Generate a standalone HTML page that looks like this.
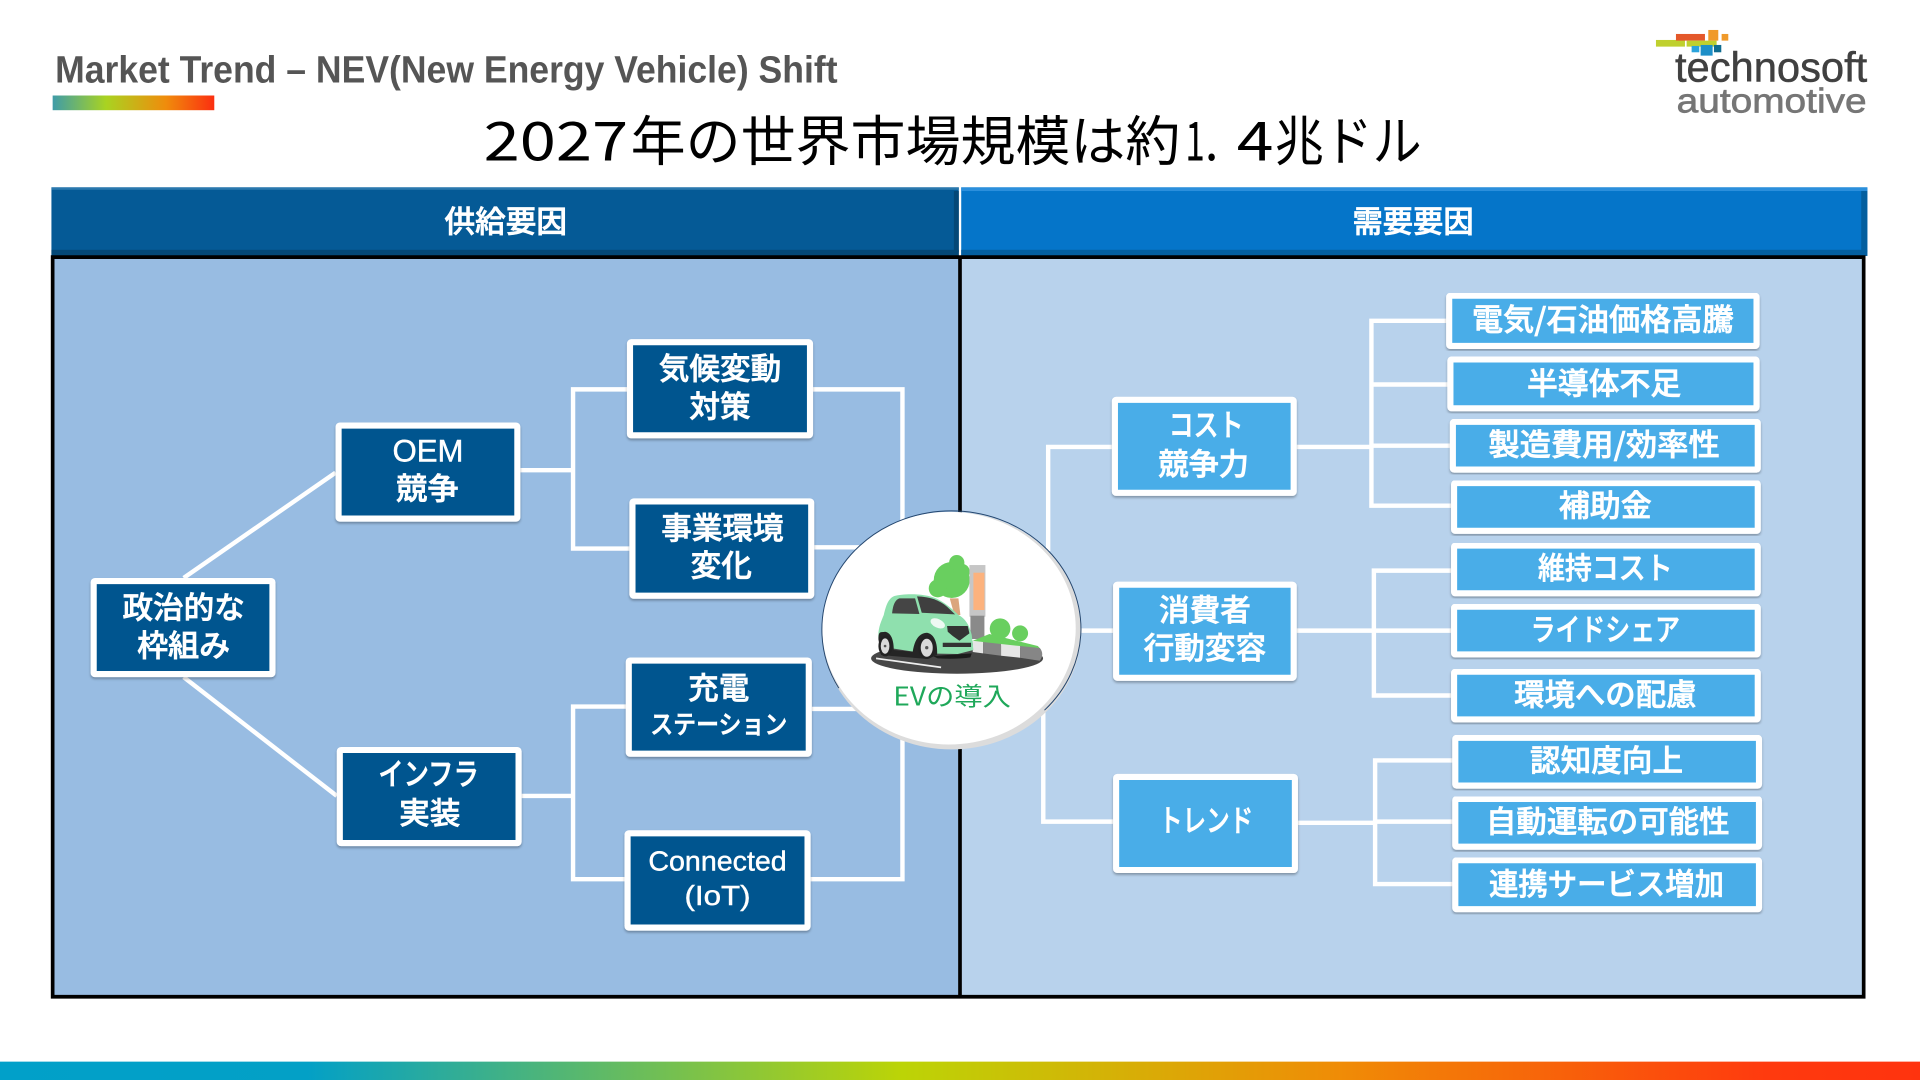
<!DOCTYPE html>
<html><head><meta charset="utf-8">
<style>
html,body{margin:0;padding:0;background:#fff;width:1920px;height:1080px;overflow:hidden}
svg{display:block}
text{font-family:"Liberation Sans","Noto Sans CJK JP",sans-serif}
.w{fill:#fff;stroke:#fff;stroke-width:.55;font-size:25px;font-weight:500;text-anchor:middle;font-family:"Noto Sans CJK JP","Liberation Sans",sans-serif}
.e{fill:#fff;stroke:#fff;stroke-width:.35;text-anchor:middle;font-family:"Liberation Sans",sans-serif}
.d{fill:#04558f;stroke:#fff;stroke-width:5;filter:url(#sh)}
.l{fill:#49ade8;stroke:#fff;stroke-width:5;filter:url(#sh)}
.c{fill:none;stroke:#fff;stroke-width:3.6;stroke-linejoin:miter}
.t{font-size:44px;fill:#000;font-family:"Noto Sans CJK JP",sans-serif;font-weight:400}
</style></head><body>
<svg width="1920" height="1080" viewBox="0 0 1568 882" xmlns="http://www.w3.org/2000/svg">
<defs>
<linearGradient id="g1"><stop offset="0" stop-color="#3f9ca8"/><stop offset=".33" stop-color="#a9d321"/><stop offset=".7" stop-color="#f08c0c"/><stop offset="1" stop-color="#fb2f10"/></linearGradient>
<linearGradient id="g2"><stop offset="0" stop-color="#01a0c9"/><stop offset=".16" stop-color="#03a0c6"/><stop offset=".47" stop-color="#bcd406"/><stop offset=".7" stop-color="#f08b06"/><stop offset=".92" stop-color="#ff3a0e"/><stop offset="1" stop-color="#ff330e"/></linearGradient>
<filter id="sh" x="-5%" y="-5%" width="110%" height="115%"><feDropShadow dx="0" dy="1.5" stdDeviation="1" flood-color="#000" flood-opacity=".3"/></filter>
</defs>

<rect x="0" y="0" width="1568" height="882" fill="#fff"/>
<text x="45" y="67.500" font-size="31" font-weight="700" fill="#555" textLength="639" lengthAdjust="spacingAndGlyphs">Market Trend – NEV(New Energy Vehicle) Shift</text>
<rect x="43" y="78" width="132" height="12" fill="url(#g1)"/>

<text class="t" x="395" y="131" textLength="118" lengthAdjust="spacingAndGlyphs">2027</text>
<text class="t" x="515" y="131" textLength="449" lengthAdjust="spacingAndGlyphs">年の世界市場規模は約</text>
<text class="t" x="968" y="131" textLength="16" lengthAdjust="spacingAndGlyphs">1</text>
<text class="t" x="984" y="131" textLength="11" lengthAdjust="spacingAndGlyphs">.</text>
<text class="t" x="1010" y="131" textLength="30" lengthAdjust="spacingAndGlyphs">4</text>
<text class="t" x="1041" y="131" textLength="120" lengthAdjust="spacingAndGlyphs">兆ドル</text>

<!-- logo -->
<g transform="translate(1339.300 16.300) scale(.2722)">
  <rect x="48" y="60" width="87" height="20" fill="#bfd02e"/>
  <rect x="108" y="42" width="87" height="20" fill="#e4582a"/>
  <rect x="140" y="62" width="90" height="18" fill="#bfd02e"/>
  <rect x="205" y="30" width="30" height="32" fill="#f09a2a"/>
  <rect x="245" y="42" width="20" height="20" fill="#f09a2a"/>
  <rect x="155" y="78" width="23" height="19" fill="#2aa3dc"/>
  <rect x="182" y="75" width="36" height="32" fill="#1d8fc8"/>
  <rect x="222" y="75" width="22" height="22" fill="#0f6c90"/>
  <text x="105" y="184" font-size="124" fill="#404040" stroke="#404040" stroke-width="1.5" textLength="577" lengthAdjust="spacingAndGlyphs">technosoft</text>
  <text x="110" y="277" font-size="104" fill="#767676" stroke="#767676" stroke-width="2" textLength="570" lengthAdjust="spacingAndGlyphs">automotive</text>
</g>

<!-- headers -->
<rect x="42" y="153" width="741" height="56" fill="#055a96"/>
<rect x="42" y="153" width="741" height="2" fill="#2a78ae"/>
<rect x="785" y="153" width="740" height="56" fill="#0575c9"/>
<rect x="785" y="153" width="740" height="3" fill="#2b8fdc"/>
<rect x="785" y="204" width="740" height="5" fill="#045f9f"/>
<rect x="42" y="204" width="741" height="5" fill="#044877"/>
<rect x="1520" y="156" width="5" height="50" fill="#045f9f"/>
<rect x="779" y="156" width="4" height="50" fill="#044877"/>
<text class="w" x="413" y="190" textLength="100" lengthAdjust="spacingAndGlyphs">供給要因</text>
<text class="w" x="1154" y="190" textLength="99" lengthAdjust="spacingAndGlyphs">需要要因</text>

<!-- panels -->
<rect x="43" y="210" width="741" height="604" fill="#98bce2"/>
<rect x="785" y="210" width="737" height="604" fill="#b8d2ec"/>
<path d="M43 210H1522V814H43Z M784 210V814" fill="none" stroke="#000" stroke-width="3"/>

<!-- connectors -->
<path class="c" d="M150 472L274 386M150 553L275 650"/>
<path class="c" d="M425 384H468M514 318H468V448H514M426 650H468M512 577H468V718H512"/>
<path class="c" d="M664 318H737V440M665 447H720M663 579H720M662 718H737V590"/>
<path class="c" d="M908 365H856V450M870 515H909M909 671H852V580"/>
<path class="c" d="M1059 365H1120M1182 262H1120V413H1186M1120 314H1184M1120 364H1186"/>
<path class="c" d="M1059 515H1122M1186 466H1122V568H1186M1122 515H1186"/>
<path class="c" d="M1060 672H1123M1187 621H1123V722H1187M1123 671H1187"/>

<!-- dark boxes -->
<rect class="d" rx="1" x="76.500" y="474.500" width="146" height="76"/>
<text class="w" x="150" y="505" textLength="100" lengthAdjust="spacingAndGlyphs">政治的な</text>
<text class="w" x="150" y="536" textLength="76" lengthAdjust="spacingAndGlyphs">枠組み</text>

<rect class="d" rx="1" x="276.500" y="347.500" width="146" height="76"/>
<text class="e" x="349.500" y="377" font-size="26" textLength="58" lengthAdjust="spacingAndGlyphs">OEM</text>
<text class="w" x="349" y="408" textLength="51" lengthAdjust="spacingAndGlyphs">競争</text>

<rect class="d" rx="1" x="277.500" y="612.500" width="146" height="76"/>
<text class="w" x="350" y="641" textLength="82" lengthAdjust="spacingAndGlyphs">インフラ</text>
<text class="w" x="351" y="673" textLength="50" lengthAdjust="spacingAndGlyphs">実装</text>

<rect class="d" rx="1" x="514.500" y="279.500" width="147" height="76"/>
<text class="w" x="588" y="310" textLength="100" lengthAdjust="spacingAndGlyphs">気候変動</text>
<text class="w" x="588" y="341" textLength="50" lengthAdjust="spacingAndGlyphs">対策</text>

<rect class="d" rx="1" x="516.500" y="409.500" width="146" height="77"/>
<text class="w" x="590" y="440" textLength="100" lengthAdjust="spacingAndGlyphs">事業環境</text>
<text class="w" x="589" y="471" textLength="50" lengthAdjust="spacingAndGlyphs">変化</text>

<rect class="d" rx="1" x="513.500" y="539.500" width="147" height="76"/>
<text class="w" x="587" y="571" textLength="50" lengthAdjust="spacingAndGlyphs">充電</text>
<text class="w" x="587" y="599" style="font-size:21px" textLength="112" lengthAdjust="spacingAndGlyphs">ステーション</text>

<rect class="d" rx="1" x="512.500" y="680.500" width="147" height="77"/>
<text class="e" x="586" y="711" font-size="23" textLength="113" lengthAdjust="spacingAndGlyphs">Connected</text>
<text class="e" x="586" y="739" font-size="23" textLength="54" lengthAdjust="spacingAndGlyphs">(IoT)</text>

<!-- light mid boxes -->
<rect class="l" rx="1" x="910.500" y="326.500" width="146" height="76"/>
<text class="w" x="985" y="356" textLength="61" lengthAdjust="spacingAndGlyphs">コスト</text>
<text class="w" x="983" y="388" textLength="74" lengthAdjust="spacingAndGlyphs">競争力</text>

<rect class="l" rx="1" x="911.500" y="477.500" width="145" height="76"/>
<text class="w" x="984" y="507" textLength="75" lengthAdjust="spacingAndGlyphs">消費者</text>
<text class="w" x="984" y="538" textLength="100" lengthAdjust="spacingAndGlyphs">行動変容</text>

<rect class="l" rx="1" x="911.500" y="634.500" width="146" height="76"/>
<text class="w" x="985" y="679" textLength="77" lengthAdjust="spacingAndGlyphs">トレンド</text>

<!-- light small boxes -->
<rect class="l" rx="1" x="1183.500" y="241.500" width="251" height="41"/>
<text class="w" x="1309" y="270" textLength="214" lengthAdjust="spacingAndGlyphs">電気/石油価格高騰</text>
<rect class="l" rx="1" x="1184.500" y="293.500" width="250" height="40"/>
<text class="w" x="1310" y="322" textLength="126" lengthAdjust="spacingAndGlyphs">半導体不足</text>
<rect class="l" rx="1" x="1186.500" y="344.500" width="249" height="39"/>
<text class="w" x="1310" y="372" textLength="189" lengthAdjust="spacingAndGlyphs">製造費用/効率性</text>
<rect class="l" rx="1" x="1187.500" y="394.500" width="248" height="39"/>
<text class="w" x="1311" y="422" textLength="76" lengthAdjust="spacingAndGlyphs">補助金</text>
<rect class="l" rx="1" x="1187.500" y="445.500" width="248" height="39"/>
<text class="w" x="1311" y="473" textLength="110" lengthAdjust="spacingAndGlyphs">維持コスト</text>
<rect class="l" rx="1" x="1187.500" y="495.500" width="248" height="39"/>
<text class="w" x="1311" y="523" textLength="122" lengthAdjust="spacingAndGlyphs">ライドシェア</text>
<rect class="l" rx="1" x="1187.500" y="548.500" width="248" height="39"/>
<text class="w" x="1311" y="576" textLength="149" lengthAdjust="spacingAndGlyphs">環境への配慮</text>
<rect class="l" rx="1" x="1188.500" y="602.500" width="248" height="39"/>
<text class="w" x="1312" y="630" textLength="125" lengthAdjust="spacingAndGlyphs">認知度向上</text>
<rect class="l" rx="1" x="1188.500" y="652.500" width="248" height="39"/>
<text class="w" x="1313" y="680" textLength="199" lengthAdjust="spacingAndGlyphs">自動運転の可能性</text>
<rect class="l" rx="1" x="1188.500" y="702.500" width="248" height="40"/>
<text class="w" x="1312" y="731" textLength="192" lengthAdjust="spacingAndGlyphs">連携サービス増加</text>

<!-- circle -->
<ellipse cx="777" cy="515" rx="106" ry="97" fill="#dcdcdc"/>
<ellipse cx="775" cy="513" rx="103.500" ry="95" fill="#fff"/>
<path d="M685 562A105.500 96.500 0 0 1 671.200 514A105.500 96.500 0 0 1 882.800 514A105.500 96.500 0 0 1 853 580" fill="none" stroke="#24466e" stroke-width=".8"/>

<g transform="translate(700.500 449.200) scale(.2722)">
  <!-- tree -->
  <path d="M276 145H302L308 195H290Z" fill="#dba57d"/>
  <g fill="#69cf5f">
    <circle cx="282" cy="90" r="54"/><circle cx="297" cy="38" r="23"/><circle cx="240" cy="115" r="27"/><circle cx="312" cy="65" r="24"/>
  </g>
  <!-- pillar -->
  <rect x="335" y="45" width="48" height="155" fill="#c6c6c6"/>
  <rect x="347" y="68" width="33" height="112" fill="#fcb27d"/>
  <rect x="338" y="197" width="42" height="70" fill="#8a8a8a"/>
  <!-- road -->
  <ellipse cx="298" cy="325" rx="258" ry="46" fill="#474747"/>
  <!-- bushes/base -->
  <path d="M345 272L395 252L540 288L548 296L345 280Z" fill="#69cf5f"/>
  <circle cx="427" cy="236" r="31" fill="#69cf5f"/><circle cx="487" cy="250" r="24" fill="#69cf5f"/>
  <!-- curb -->
  <path d="M345 272L376 276V310L345 306Z" fill="#e6e6e6"/>
  <path d="M376 276L430 282V317L376 310Z" fill="#868686"/>
  <path d="M430 282L487 288V323L430 317Z" fill="#e6e6e6"/>
  <path d="M487 288L546 294C556 305 556 320 546 332L487 323Z" fill="#868686"/>
  <path d="M55 325L250 352" stroke="#eee" stroke-width="5"/>
  <!-- car -->
  <path d="M225 318L342 310L338 322Q300 328 240 325Z" fill="#1c1c1c"/>
  <path d="M62 265C60 235 70 215 78 195C85 165 92 145 110 138C140 130 200 130 235 145C265 160 285 178 302 195C322 205 335 225 342 255L347 300L300 312L200 310L70 290Z" fill="#8fe0ae"/>
  <path d="M103 190C105 170 110 150 125 145H172L185 192Z" fill="#454545"/>
  <path d="M178 139C215 140 245 150 268 170L292 193L192 188Z" fill="#3f3f3f"/>
  <ellipse cx="240" cy="220" rx="23" ry="13" fill="#eef8f2" transform="rotate(25 240 220)"/>
  <path d="M268 228H330L335 250L305 272L285 258L270 245Z" fill="#333"/>
  <path d="M255 278H340V291H255Z" fill="#333"/>
  <path d="M62 268C62 240 70 248 82 245C100 248 108 270 108 300L165 305C170 270 185 248 208 248C230 252 240 280 238 315L210 327L70 315Z" fill="#252525"/>
  <ellipse cx="83" cy="288" rx="21" ry="31" fill="#222"/><ellipse cx="82" cy="288" rx="13" ry="23" fill="#d9d9d9"/>
  <ellipse cx="207" cy="292" rx="26" ry="35" fill="#222"/><ellipse cx="207" cy="293" rx="18" ry="27" fill="#d9d9d9"/>
  <circle cx="82" cy="288" r="4" fill="#555"/><circle cx="207" cy="293" r="5" fill="#555"/>
</g>
<text x="777.500" y="576" font-size="21" fill="#1fa85a" text-anchor="middle" textLength="96" lengthAdjust="spacingAndGlyphs" style="font-family:'Noto Sans CJK JP',sans-serif">EVの導入</text>

<!-- bottom bar -->
<rect x="0" y="867" width="1568" height="15" fill="url(#g2)"/>
</svg>
</body></html>
